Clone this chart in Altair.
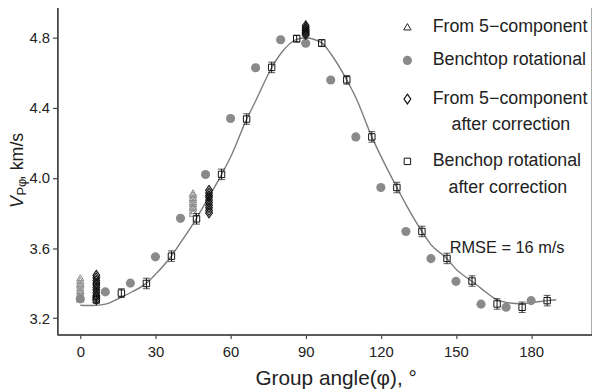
import altair as alt
import pandas as pd

# ---------------- data ----------------
# Benchtop rotational (grey filled circles)
bench_angle = [0, 10, 20, 30, 40, 50, 60, 70, 80, 90, 100, 110, 120, 130, 140, 150, 160, 170, 180]
bench_v = [3.31, 3.35, 3.40, 3.55, 3.77, 4.02, 4.34, 4.63, 4.79, 4.77, 4.56, 4.235, 3.946, 3.695,
           3.54, 3.41, 3.28, 3.262, 3.30]

# Benchop rotational after correction (open squares with error bars)
corr_angle = [6.4, 16.4, 26.4, 36.4, 46.4, 56.4, 66.4, 76.4, 86.4, 96.4, 106.4, 116.4, 126.4,
              136.4, 146.4, 156.4, 166.4, 176.4, 186.4]
corr_v = [3.305, 3.343, 3.398, 3.554, 3.767, 4.021, 4.337, 4.632, 4.796, 4.771, 4.561, 4.235,
          3.946, 3.695, 3.541, 3.412, 3.281, 3.262, 3.30]
corr_err = [0.02, 0.025, 0.03, 0.03, 0.03, 0.03, 0.03, 0.03, 0.02, 0.02, 0.025, 0.03, 0.03,
            0.03, 0.03, 0.03, 0.03, 0.03, 0.03]

# From 5-component (open grey triangles)
five_angle = [0] * 10 + [45] * 10 + [90] * 5
five_v = [3.31, 3.32, 3.335, 3.35, 3.36, 3.375, 3.39, 3.40, 3.415, 3.43,
          3.80, 3.815, 3.83, 3.84, 3.855, 3.865, 3.88, 3.89, 3.905, 3.915,
          4.82, 4.83, 4.84, 4.85, 4.86]

# From 5-component after correction (open black diamonds)
fivec_angle = [6.4] * 11 + [51.4] * 10 + [90] * 6
fivec_v = [3.305, 3.32, 3.33, 3.345, 3.36, 3.375, 3.39, 3.40, 3.415, 3.43, 3.445,
           3.80, 3.815, 3.83, 3.845, 3.86, 3.875, 3.89, 3.90, 3.915, 3.93,
           4.82, 4.83, 4.84, 4.85, 4.86, 4.87]

# Fitted curve (grey line)
fit_angle = [0, 5, 10, 16.4, 20, 26.4, 30, 36.4, 40, 46.4, 50, 56.4, 60, 66.4, 70, 76.4, 80,
             86.4, 90, 96.4, 100, 106.4, 110, 116.4, 120, 126.4, 130, 136.4, 140, 146.4, 150,
             156.4, 160, 166.4, 170, 176.4, 180, 186.4, 190]
fit_v = [3.274, 3.272, 3.28, 3.32, 3.345, 3.40, 3.45, 3.555, 3.63, 3.77, 3.86, 4.02, 4.12,
         4.335, 4.44, 4.63, 4.71, 4.792, 4.80, 4.772, 4.71, 4.56, 4.46, 4.235, 4.125, 3.946,
         3.85, 3.695, 3.62, 3.54, 3.48, 3.41, 3.37, 3.305, 3.29, 3.282, 3.288, 3.30, 3.305]

x_ticks = [0, 30, 60, 90, 120, 150, 180]
y_ticks = [3.2, 3.6, 4.0, 4.4, 4.8]

FONT = "Liberation Sans"
GREY = "#8a8a8a"
DARK = "#222222"
BLACK = "#111111"

bench = pd.DataFrame({"angle": bench_angle, "v": bench_v})
corr = pd.DataFrame({"angle": corr_angle, "v": corr_v, "err": corr_err})
corr["lo"] = corr["v"] - corr["err"]
corr["hi"] = corr["v"] + corr["err"]
five = pd.DataFrame({"angle": five_angle, "v": five_v})
fivec = pd.DataFrame({"angle": fivec_angle, "v": fivec_v})
fit = pd.DataFrame({"angle": fit_angle, "v": fit_v})

xs = alt.Scale(domain=[-9.1, 204.3], nice=False, zero=False)
ys = alt.Scale(domain=[3.106, 4.994], nice=False, zero=False)

X = alt.X("angle:Q", scale=xs,
          axis=alt.Axis(values=x_ticks, title="Group angle(φ), °", grid=False,
                        tickSize=4, labelPadding=6, titleFontSize=21, titleFont=FONT,
                        titleFontWeight="normal", titleColor=DARK,
                        titleX=281, titleY=50, titleBaseline="alphabetic"))
Y = alt.Y("v:Q", scale=ys,
          axis=alt.Axis(values=y_ticks, format=".1f", title=None, grid=False,
                        tickSize=5, labelPadding=3))

curve = alt.Chart(fit).mark_line(color="#7c7c7c", strokeWidth=1.4, interpolate="monotone").encode(x=X, y=Y)
circles = alt.Chart(bench).mark_circle(color=GREY, opacity=1, size=85).encode(x=X, y=Y)
tri = alt.Chart(five).mark_point(shape="triangle-up", filled=False, color=GREY,
                                 size=55, strokeWidth=1, opacity=1).encode(x=X, y=Y)
DIAMOND = "M0,-1L0.7,0L0,1L-0.7,0Z"
dia = alt.Chart(fivec).mark_point(shape=DIAMOND, filled=False, color=BLACK,
                                  size=95, strokeWidth=1.1, opacity=1).encode(x=X, y=Y)
err = alt.Chart(corr).mark_rule(color=BLACK, strokeWidth=1).encode(
    x=X, y=alt.Y("lo:Q", scale=ys), y2="hi:Q")
cap_lo = alt.Chart(corr).mark_tick(color=BLACK, thickness=1, size=7, orient="horizontal").encode(
    x=X, y=alt.Y("lo:Q", scale=ys))
cap_hi = alt.Chart(corr).mark_tick(color=BLACK, thickness=1, size=7, orient="horizontal").encode(
    x=X, y=alt.Y("hi:Q", scale=ys))
squares = alt.Chart(corr).mark_point(shape="square", filled=False, color=BLACK,
                                     size=42, strokeWidth=1, opacity=1).encode(x=X, y=Y)

rmse = alt.Chart(pd.DataFrame({"angle": [147.5], "v": [3.601], "t": ["RMSE = 16 m/s"]})).mark_text(
    align="left", baseline="middle", font=FONT, fontSize=16.5, color=DARK).encode(x=X, y=Y, text="t:N")

one = pd.DataFrame({"a": [0]})


def sym(shape, x, y, color, filled, size, sw=1):
    return alt.Chart(one).mark_point(shape=shape, filled=filled, color=color, size=size,
                                     strokeWidth=sw, opacity=1).encode(
        x=alt.value(x), y=alt.value(y))


def txt(s, x, y, align="left", size=18, style="normal"):
    return alt.Chart(one).mark_text(text=s, align=align, baseline="middle", font=FONT,
                                    fontSize=size, fontStyle=style, color=DARK).encode(
        x=alt.value(x), y=alt.value(y))


# legend (pixel positions relative to the plot area)
legend = [
    sym("triangle-up", 353.5, 23, DARK, False, 55),
    txt("From 5\u2212component", 379, 23),
    sym("circle", 353.5, 57, GREY, True, 85),
    txt("Benchtop rotational", 379, 57),
    sym(DIAMOND, 353.5, 96, BLACK, False, 95, 1.2),
    txt("From 5\u2212component", 379, 96),
    txt("after correction", 458, 122, align="center"),
    sym("square", 353.5, 159, BLACK, False, 42),
    txt("Benchop rotational", 379, 159),
    txt("after correction", 455, 186, align="center"),
]


def ytxt(s, x, y, size, style="normal"):
    return alt.Chart(one).mark_text(text=s, align="left", baseline="middle", angle=270,
                                    font=FONT, fontSize=size, fontStyle=style, color=DARK).encode(
        x=alt.value(x), y=alt.value(y))


ytitle = [
    ytxt("V", -40, 206, 18, "italic"),
    ytxt("P\u03c6", -35.5, 193.5, 13),
    ytxt(", km/s", -40, 178, 18),
]

chart = alt.layer(curve, circles, tri, dia, err, cap_lo, cap_hi, squares, rmse, *legend, *ytitle).properties(
    width=540, height=334, padding={"left": 50, "top": -6, "right": 0, "bottom": 53},
    autosize=alt.AutoSizeParams(type="none"),
).configure_view(stroke="#444444", strokeWidth=1.3).configure_axis(
    domainColor="#444444", domainWidth=1.3, tickColor="#444444", tickWidth=1.2,
    labelFont=FONT, labelFontSize=15, labelColor=DARK,
)

chart.save("out.html", embed_options={"renderer": "svg", "actions": False})
